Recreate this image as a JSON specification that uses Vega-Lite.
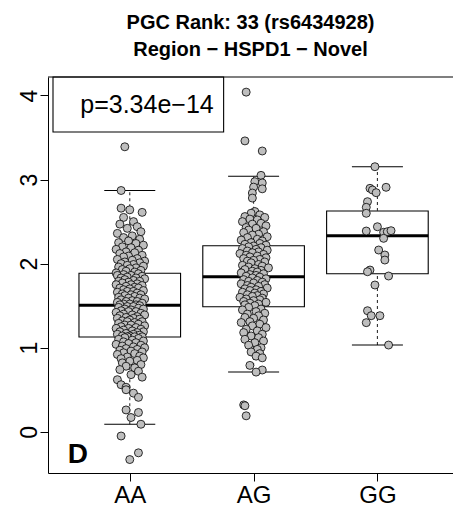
{
  "$schema": "https://vega.github.io/schema/vega-lite/v6.json",
  "width": 405,
  "height": 396,
  "autosize": {"type": "none"},
  "padding": {"left": 48, "top": 77, "right": 0, "bottom": 33},
  "background": "white",
  "title": {
    "text": ["PGC Rank: 33 (rs6434928)", "Region − HSPD1 − Novel"],
    "font": "Liberation Sans",
    "fontSize": 20,
    "fontWeight": "bold",
    "color": "black",
    "anchor": "middle",
    "lineHeight": 27,
    "baseline": "alphabetic",
    "offset": 0
  },
  "config": {
    "view": {"stroke": null},
    "font": "Liberation Sans"
  },
  "datasets": {
    "box": [
      {"g": "AA", "pos": 1, "lo": 0.089, "q1": 1.127, "med": 1.504, "q3": 1.885, "hi": 2.87},
      {"g": "AG", "pos": 2, "lo": 0.711, "q1": 1.488, "med": 1.845, "q3": 2.213, "hi": 3.04},
      {"g": "GG", "pos": 3, "lo": 1.032, "q1": 1.88, "med": 2.332, "q3": 2.626, "hi": 3.153}
    ],
    "pts": [
      {"g":"AA","x":0.96,"y":3.39},{"g":"AA","x":0.93,"y":2.87},{"g":"AA","x":0.93,"y":2.66},{"g":"AA","x":1.00,"y":2.64},{"g":"AA","x":1.10,"y":2.61},{"g":"AA","x":0.95,"y":2.55},{"g":"AA","x":1.03,"y":2.50},{"g":"AA","x":0.92,"y":2.47},{"g":"AA","x":1.06,"y":2.44},{"g":"AA","x":0.98,"y":2.42},{"g":"AA","x":1.09,"y":2.38},{"g":"AA","x":0.90,"y":2.36},{"g":"AA","x":1.02,"y":2.33},{"g":"AA","x":0.95,"y":2.31},{"g":"AA","x":1.08,"y":2.29},{"g":"AA","x":0.99,"y":2.27},{"g":"AA","x":0.91,"y":2.25},{"g":"AA","x":1.05,"y":2.24},{"g":"AA","x":1.11,"y":2.22},{"g":"AA","x":0.94,"y":2.20},{"g":"AA","x":1.01,"y":2.19},{"g":"AA","x":0.89,"y":2.17},{"g":"AA","x":1.07,"y":2.16},{"g":"AA","x":0.97,"y":2.14},{"g":"AA","x":1.04,"y":2.13},{"g":"AA","x":0.92,"y":2.12},{"g":"AA","x":1.10,"y":2.10},{"g":"AA","x":0.99,"y":2.09},{"g":"AA","x":0.95,"y":2.08},{"g":"AA","x":1.06,"y":2.06},{"g":"AA","x":0.90,"y":2.05},{"g":"AA","x":1.02,"y":2.04},{"g":"AA","x":1.12,"y":2.03},{"g":"AA","x":0.96,"y":2.02},{"g":"AA","x":1.08,"y":2.01},{"g":"AA","x":0.93,"y":2.00},{"g":"AA","x":1.03,"y":1.99},{"g":"AA","x":0.98,"y":1.98},{"g":"AA","x":1.11,"y":1.97},{"g":"AA","x":0.91,"y":1.96},{"g":"AA","x":1.05,"y":1.95},{"g":"AA","x":1.00,"y":1.94},{"g":"AA","x":0.94,"y":1.93},{"g":"AA","x":1.09,"y":1.92},{"g":"AA","x":0.97,"y":1.91},{"g":"AA","x":1.04,"y":1.90},{"g":"AA","x":0.89,"y":1.89},
      {"g":"AA","x":1.07,"y":1.88},{"g":"AA","x":0.95,"y":1.87},{"g":"AA","x":1.01,"y":1.86},{"g":"AA","x":0.90,"y":1.86},{"g":"AA","x":1.10,"y":1.85},{"g":"AA","x":0.98,"y":1.84},{"g":"AA","x":1.05,"y":1.83},{"g":"AA","x":0.93,"y":1.83},{"g":"AA","x":1.12,"y":1.82},{"g":"AA","x":0.96,"y":1.81},{"g":"AA","x":1.03,"y":1.80},{"g":"AA","x":0.91,"y":1.79},{"g":"AA","x":1.08,"y":1.79},{"g":"AA","x":0.99,"y":1.78},{"g":"AA","x":0.94,"y":1.77},{"g":"AA","x":1.06,"y":1.76},{"g":"AA","x":1.01,"y":1.75},{"g":"AA","x":0.89,"y":1.75},{"g":"AA","x":1.10,"y":1.74},{"g":"AA","x":0.97,"y":1.73},{"g":"AA","x":1.04,"y":1.72},{"g":"AA","x":0.92,"y":1.71},{"g":"AA","x":1.07,"y":1.71},{"g":"AA","x":1.00,"y":1.70},{"g":"AA","x":0.95,"y":1.69},{"g":"AA","x":1.11,"y":1.68},{"g":"AA","x":0.98,"y":1.67},{"g":"AA","x":1.03,"y":1.67},{"g":"AA","x":0.90,"y":1.66},{"g":"AA","x":1.06,"y":1.65},{"g":"AA","x":0.94,"y":1.64},{"g":"AA","x":1.09,"y":1.63},{"g":"AA","x":1.01,"y":1.63},{"g":"AA","x":0.96,"y":1.62},{"g":"AA","x":1.04,"y":1.61},{"g":"AA","x":0.91,"y":1.60},{"g":"AA","x":1.08,"y":1.59},{"g":"AA","x":0.99,"y":1.59},{"g":"AA","x":1.12,"y":1.58},{"g":"AA","x":0.93,"y":1.57},{"g":"AA","x":1.02,"y":1.56},{"g":"AA","x":0.97,"y":1.55},{"g":"AA","x":1.06,"y":1.55},{"g":"AA","x":0.90,"y":1.54},{"g":"AA","x":1.10,"y":1.53},{"g":"AA","x":1.00,"y":1.52},{"g":"AA","x":0.95,"y":1.52},{"g":"AA","x":1.05,"y":1.51},{"g":"AA","x":0.92,"y":1.51},{"g":"AA","x":1.08,"y":1.50},
      {"g":"AA","x":0.98,"y":1.49},{"g":"AA","x":1.03,"y":1.49},{"g":"AA","x":0.91,"y":1.48},{"g":"AA","x":1.07,"y":1.47},{"g":"AA","x":0.96,"y":1.46},{"g":"AA","x":1.11,"y":1.46},{"g":"AA","x":1.01,"y":1.45},{"g":"AA","x":0.93,"y":1.44},{"g":"AA","x":1.05,"y":1.43},{"g":"AA","x":0.99,"y":1.43},{"g":"AA","x":0.89,"y":1.42},{"g":"AA","x":1.09,"y":1.41},{"g":"AA","x":0.95,"y":1.40},{"g":"AA","x":1.02,"y":1.39},{"g":"AA","x":1.12,"y":1.39},{"g":"AA","x":0.92,"y":1.38},{"g":"AA","x":1.06,"y":1.37},{"g":"AA","x":0.97,"y":1.36},{"g":"AA","x":1.03,"y":1.35},{"g":"AA","x":0.90,"y":1.35},{"g":"AA","x":1.08,"y":1.34},{"g":"AA","x":1.00,"y":1.33},{"g":"AA","x":0.94,"y":1.32},{"g":"AA","x":1.10,"y":1.31},{"g":"AA","x":0.98,"y":1.31},{"g":"AA","x":1.04,"y":1.30},{"g":"AA","x":0.91,"y":1.29},{"g":"AA","x":1.07,"y":1.28},{"g":"AA","x":0.96,"y":1.27},{"g":"AA","x":1.01,"y":1.27},{"g":"AA","x":1.12,"y":1.26},{"g":"AA","x":0.93,"y":1.25},{"g":"AA","x":1.05,"y":1.24},{"g":"AA","x":0.99,"y":1.23},{"g":"AA","x":0.89,"y":1.23},{"g":"AA","x":1.09,"y":1.22},{"g":"AA","x":0.95,"y":1.21},{"g":"AA","x":1.02,"y":1.20},{"g":"AA","x":1.11,"y":1.19},{"g":"AA","x":0.92,"y":1.19},{"g":"AA","x":1.06,"y":1.18},{"g":"AA","x":0.97,"y":1.17},{"g":"AA","x":1.03,"y":1.16},{"g":"AA","x":0.90,"y":1.16},{"g":"AA","x":1.08,"y":1.15},{"g":"AA","x":1.00,"y":1.14},{"g":"AA","x":0.94,"y":1.14},{"g":"AA","x":1.10,"y":1.13},{"g":"AA","x":0.98,"y":1.13},{"g":"AA","x":1.04,"y":1.13},
      {"g":"AA","x":0.96,"y":1.12},{"g":"AA","x":1.07,"y":1.11},{"g":"AA","x":0.91,"y":1.10},{"g":"AA","x":1.02,"y":1.09},{"g":"AA","x":1.11,"y":1.08},{"g":"AA","x":0.95,"y":1.07},{"g":"AA","x":1.05,"y":1.06},{"g":"AA","x":0.99,"y":1.05},{"g":"AA","x":0.89,"y":1.04},{"g":"AA","x":1.09,"y":1.03},{"g":"AA","x":0.94,"y":1.02},{"g":"AA","x":1.03,"y":1.01},{"g":"AA","x":1.12,"y":1.00},{"g":"AA","x":0.97,"y":0.99},{"g":"AA","x":1.06,"y":0.98},{"g":"AA","x":0.92,"y":0.97},{"g":"AA","x":1.01,"y":0.96},{"g":"AA","x":1.10,"y":0.95},{"g":"AA","x":0.95,"y":0.94},{"g":"AA","x":1.04,"y":0.93},{"g":"AA","x":0.90,"y":0.92},{"g":"AA","x":1.08,"y":0.90},{"g":"AA","x":0.98,"y":0.89},{"g":"AA","x":1.11,"y":0.88},{"g":"AA","x":0.93,"y":0.87},{"g":"AA","x":1.06,"y":0.85},{"g":"AA","x":1.00,"y":0.84},{"g":"AA","x":0.94,"y":0.82},{"g":"AA","x":1.09,"y":0.80},{"g":"AA","x":0.97,"y":0.78},{"g":"AA","x":1.04,"y":0.76},{"g":"AA","x":0.92,"y":0.74},{"g":"AA","x":1.07,"y":0.72},{"g":"AA","x":1.01,"y":0.68},{"g":"AA","x":1.10,"y":0.65},{"g":"AA","x":0.90,"y":0.62},{"g":"AA","x":0.93,"y":0.56},{"g":"AA","x":0.97,"y":0.53},{"g":"AA","x":0.97,"y":0.50},{"g":"AA","x":1.03,"y":0.46},{"g":"AA","x":1.07,"y":0.41},{"g":"AA","x":0.97,"y":0.26},{"g":"AA","x":1.07,"y":0.23},{"g":"AA","x":1.01,"y":0.17},{"g":"AA","x":1.09,"y":0.09},{"g":"AA","x":0.93,"y":-0.05},{"g":"AA","x":1.07,"y":-0.25},{"g":"AA","x":1.00,"y":-0.33},
      {"g":"AG","x":1.94,"y":4.04},{"g":"AG","x":1.93,"y":3.46},{"g":"AG","x":2.07,"y":3.34},{"g":"AG","x":2.06,"y":3.05},{"g":"AG","x":2.01,"y":2.975},{"g":"AG","x":2.07,"y":2.96},{"g":"AG","x":2.00,"y":2.91},{"g":"AG","x":2.07,"y":2.89},{"g":"AG","x":1.99,"y":2.84},{"g":"AG","x":1.99,"y":2.78},
      {"g":"AG","x":2.01,"y":2.62},{"g":"AG","x":1.98,"y":2.60},{"g":"AG","x":2.05,"y":2.58},{"g":"AG","x":1.93,"y":2.56},{"g":"AG","x":2.09,"y":2.55},{"g":"AG","x":1.97,"y":2.53},{"g":"AG","x":2.03,"y":2.52},{"g":"AG","x":1.91,"y":2.50},{"g":"AG","x":2.06,"y":2.48},{"g":"AG","x":1.99,"y":2.47},{"g":"AG","x":2.10,"y":2.45},{"g":"AG","x":1.94,"y":2.43},{"g":"AG","x":2.02,"y":2.42},{"g":"AG","x":1.96,"y":2.40},{"g":"AG","x":2.08,"y":2.38},{"g":"AG","x":1.92,"y":2.37},{"g":"AG","x":2.04,"y":2.35},{"g":"AG","x":1.99,"y":2.34},{"g":"AG","x":2.11,"y":2.32},{"g":"AG","x":1.95,"y":2.31},{"g":"AG","x":2.03,"y":2.29},{"g":"AG","x":1.90,"y":2.28},{"g":"AG","x":2.07,"y":2.27},{"g":"AG","x":1.98,"y":2.25},{"g":"AG","x":2.05,"y":2.24},{"g":"AG","x":1.93,"y":2.23},{"g":"AG","x":2.10,"y":2.22},{"g":"AG","x":2.00,"y":2.21},
      {"g":"AG","x":1.96,"y":2.20},{"g":"AG","x":2.06,"y":2.19},{"g":"AG","x":1.91,"y":2.18},{"g":"AG","x":2.02,"y":2.17},{"g":"AG","x":2.11,"y":2.16},{"g":"AG","x":1.95,"y":2.15},{"g":"AG","x":2.04,"y":2.14},{"g":"AG","x":1.99,"y":2.13},{"g":"AG","x":1.89,"y":2.12},{"g":"AG","x":2.08,"y":2.11},{"g":"AG","x":1.94,"y":2.10},{"g":"AG","x":2.03,"y":2.09},{"g":"AG","x":1.97,"y":2.08},{"g":"AG","x":2.10,"y":2.07},{"g":"AG","x":1.92,"y":2.06},{"g":"AG","x":2.05,"y":2.05},{"g":"AG","x":2.00,"y":2.04},{"g":"AG","x":1.95,"y":2.03},{"g":"AG","x":2.09,"y":2.02},{"g":"AG","x":1.98,"y":2.01},{"g":"AG","x":2.04,"y":1.99},{"g":"AG","x":1.91,"y":1.98},{"g":"AG","x":2.07,"y":1.97},{"g":"AG","x":1.96,"y":1.96},{"g":"AG","x":2.12,"y":1.95},{"g":"AG","x":2.01,"y":1.94},{"g":"AG","x":1.93,"y":1.93},{"g":"AG","x":2.06,"y":1.92},{"g":"AG","x":1.99,"y":1.91},{"g":"AG","x":2.03,"y":1.90},{"g":"AG","x":1.90,"y":1.89},{"g":"AG","x":2.08,"y":1.88},{"g":"AG","x":1.97,"y":1.87},{"g":"AG","x":2.02,"y":1.86},{"g":"AG","x":1.94,"y":1.85},
      {"g":"AG","x":2.05,"y":1.84},{"g":"AG","x":1.99,"y":1.83},{"g":"AG","x":2.10,"y":1.82},{"g":"AG","x":1.92,"y":1.81},{"g":"AG","x":2.03,"y":1.80},{"g":"AG","x":1.96,"y":1.79},{"g":"AG","x":2.07,"y":1.78},{"g":"AG","x":2.00,"y":1.77},{"g":"AG","x":1.90,"y":1.76},{"g":"AG","x":2.09,"y":1.75},{"g":"AG","x":1.95,"y":1.74},{"g":"AG","x":2.04,"y":1.73},{"g":"AG","x":1.98,"y":1.72},{"g":"AG","x":2.11,"y":1.71},{"g":"AG","x":1.93,"y":1.70},{"g":"AG","x":2.02,"y":1.69},{"g":"AG","x":1.97,"y":1.68},{"g":"AG","x":2.06,"y":1.67},{"g":"AG","x":1.91,"y":1.66},{"g":"AG","x":2.01,"y":1.65},{"g":"AG","x":2.08,"y":1.64},{"g":"AG","x":1.95,"y":1.63},{"g":"AG","x":2.03,"y":1.62},{"g":"AG","x":1.99,"y":1.61},{"g":"AG","x":1.89,"y":1.60},{"g":"AG","x":2.07,"y":1.59},{"g":"AG","x":1.94,"y":1.58},{"g":"AG","x":2.05,"y":1.57},{"g":"AG","x":2.00,"y":1.56},{"g":"AG","x":1.92,"y":1.55},{"g":"AG","x":2.10,"y":1.54},{"g":"AG","x":1.97,"y":1.53},{"g":"AG","x":2.04,"y":1.52},{"g":"AG","x":1.93,"y":1.51},{"g":"AG","x":2.01,"y":1.50},
      {"g":"AG","x":1.96,"y":1.48},{"g":"AG","x":2.06,"y":1.46},{"g":"AG","x":1.91,"y":1.45},{"g":"AG","x":2.02,"y":1.43},{"g":"AG","x":2.09,"y":1.41},{"g":"AG","x":1.95,"y":1.40},{"g":"AG","x":2.04,"y":1.38},{"g":"AG","x":1.93,"y":1.36},{"g":"AG","x":2.00,"y":1.35},{"g":"AG","x":2.08,"y":1.33},{"g":"AG","x":1.97,"y":1.31},{"g":"AG","x":1.90,"y":1.30},{"g":"AG","x":2.05,"y":1.28},{"g":"AG","x":1.99,"y":1.26},{"g":"AG","x":2.10,"y":1.24},{"g":"AG","x":1.94,"y":1.22},{"g":"AG","x":2.03,"y":1.20},{"g":"AG","x":1.92,"y":1.18},{"g":"AG","x":2.07,"y":1.16},{"g":"AG","x":1.98,"y":1.14},{"g":"AG","x":2.04,"y":1.12},{"g":"AG","x":1.93,"y":1.10},{"g":"AG","x":2.08,"y":1.08},{"g":"AG","x":2.01,"y":1.06},{"g":"AG","x":1.96,"y":1.03},{"g":"AG","x":2.06,"y":1.00},{"g":"AG","x":2.03,"y":0.98},{"g":"AG","x":1.98,"y":0.95},{"g":"AG","x":2.05,"y":0.93},{"g":"AG","x":2.02,"y":0.90},{"g":"AG","x":2.07,"y":0.88},{"g":"AG","x":1.97,"y":0.79},{"g":"AG","x":2.07,"y":0.735},{"g":"AG","x":2.02,"y":0.71},
      {"g":"AG","x":1.92,"y":0.32},{"g":"AG","x":1.93,"y":0.31},{"g":"AG","x":1.94,"y":0.19},
      {"g":"GG","x":2.98,"y":3.153},{"g":"GG","x":2.94,"y":2.896},{"g":"GG","x":2.96,"y":2.876},{"g":"GG","x":3.07,"y":2.908},{"g":"GG","x":2.99,"y":2.844},{"g":"GG","x":2.92,"y":2.737},{"g":"GG","x":2.91,"y":2.67},{"g":"GG","x":2.91,"y":2.599},{"g":"GG","x":2.91,"y":2.388},{"g":"GG","x":3.00,"y":2.439},{"g":"GG","x":3.05,"y":2.373},{"g":"GG","x":3.08,"y":2.38},{"g":"GG","x":3.11,"y":2.392},{"g":"GG","x":3.05,"y":2.301},{"g":"GG","x":3.01,"y":2.162},{"g":"GG","x":3.06,"y":2.103},{"g":"GG","x":3.06,"y":2.043},{"g":"GG","x":2.94,"y":1.924},{"g":"GG","x":2.92,"y":1.904},{"g":"GG","x":3.09,"y":1.853},{"g":"GG","x":2.98,"y":1.746},{"g":"GG","x":2.92,"y":1.44},{"g":"GG","x":2.95,"y":1.381},{"g":"GG","x":3.02,"y":1.381},{"g":"GG","x":2.91,"y":1.298},{"g":"GG","x":3.09,"y":1.032}
    ]
  },
  "encoding": {
    "x": {
      "type": "quantitative",
      "scale": {"domain": [0.38, 3.57], "nice": false, "zero": false}
    },
    "y": {
      "type": "quantitative",
      "scale": {"domain": [-0.49, 4.22], "nice": false, "zero": false}
    }
  },
  "layer": [
    {
      "data": {"name": "box"},
      "mark": {"type": "bar", "width": 101.6, "fill": "white", "stroke": "black", "strokeWidth": 1.1},
      "encoding": {
        "x": {
          "field": "pos", "type": "quantitative",
          "axis": {
            "values": [1, 2, 3],
            "labelExpr": "datum.value == 1 ? 'AA' : datum.value == 2 ? 'AG' : 'GG'",
            "title": null, "grid": false,
            "domainColor": "black", "tickColor": "black", "tickSize": 8,
            "labelFont": "Liberation Sans", "labelFontSize": 24, "labelColor": "black",
            "labelPadding": 2, "labelBaseline": "top"
          }
        },
        "y": {
          "field": "q1", "type": "quantitative",
          "axis": {
            "values": [0, 1, 2, 3, 4],
            "format": "d",
            "title": null, "grid": false,
            "domainColor": "black", "tickColor": "black", "tickSize": 8,
            "labelFont": "Liberation Sans", "labelFontSize": 23, "labelColor": "black",
            "labelAngle": -90, "labelAlign": "center", "labelBaseline": "alphabetic", "labelPadding": 4
          }
        },
        "y2": {"field": "q3"}
      }
    },
    {
      "data": {"name": "box"},
      "mark": {"type": "rule", "strokeDash": [3, 3], "strokeWidth": 1.1, "color": "#333333"},
      "encoding": {
        "x": {"field": "pos", "type": "quantitative"},
        "y": {"field": "q3", "type": "quantitative"},
        "y2": {"field": "hi"}
      }
    },
    {
      "data": {"name": "box"},
      "mark": {"type": "rule", "strokeDash": [3, 3], "strokeWidth": 1.1, "color": "#333333"},
      "encoding": {
        "x": {"field": "pos", "type": "quantitative"},
        "y": {"field": "lo", "type": "quantitative"},
        "y2": {"field": "q1"}
      }
    },
    {
      "data": {"name": "box"},
      "mark": {"type": "tick", "orient": "horizontal", "size": 51, "thickness": 1.1, "color": "black", "opacity": 1},
      "encoding": {
        "x": {"field": "pos", "type": "quantitative"},
        "y": {"field": "hi", "type": "quantitative"}
      }
    },
    {
      "data": {"name": "box"},
      "mark": {"type": "tick", "orient": "horizontal", "size": 51, "thickness": 1.1, "color": "black", "opacity": 1},
      "encoding": {
        "x": {"field": "pos", "type": "quantitative"},
        "y": {"field": "lo", "type": "quantitative"}
      }
    },
    {
      "data": {"name": "box"},
      "mark": {"type": "tick", "orient": "horizontal", "size": 101.6, "thickness": 3, "color": "black", "opacity": 1},
      "encoding": {
        "x": {"field": "pos", "type": "quantitative"},
        "y": {"field": "med", "type": "quantitative"}
      }
    },
    {
      "data": {"name": "pts"},
      "mark": {"type": "point", "shape": "circle", "filled": true, "fill": "#BEBEBE", "stroke": "black", "strokeWidth": 0.8, "size": 64, "opacity": 1},
      "encoding": {
        "x": {"field": "x", "type": "quantitative"},
        "y": {"field": "y", "type": "quantitative"}
      }
    },
    {
      "data": {"values": [{}]},
      "mark": {"type": "rect", "fill": "white", "stroke": "black", "strokeWidth": 1.1},
      "encoding": {
        "x": {"datum": 0.38, "type": "quantitative"},
        "x2": {"datum": 1.758},
        "y": {"datum": 3.566, "type": "quantitative"},
        "y2": {"datum": 4.22}
      }
    },
    {
      "data": {"values": [{}]},
      "mark": {"type": "text", "text": "p=3.34e−14", "font": "Liberation Sans", "fontSize": 25, "align": "left", "baseline": "alphabetic", "color": "black"},
      "encoding": {
        "x": {"datum": 0.60, "type": "quantitative"},
        "y": {"datum": 3.79, "type": "quantitative"}
      }
    },
    {
      "data": {"values": [{}]},
      "mark": {"type": "text", "text": "D", "font": "Liberation Sans", "fontSize": 28, "fontWeight": "bold", "align": "left", "baseline": "alphabetic", "color": "black"},
      "encoding": {
        "x": {"datum": 0.50, "type": "quantitative"},
        "y": {"datum": -0.37, "type": "quantitative"}
      }
    },
    {
      "data": {"values": [{}]},
      "mark": {"type": "rule", "color": "black", "strokeWidth": 1.1},
      "encoding": {
        "y": {"datum": 4.22, "type": "quantitative"}
      }
    }
  ]
}
